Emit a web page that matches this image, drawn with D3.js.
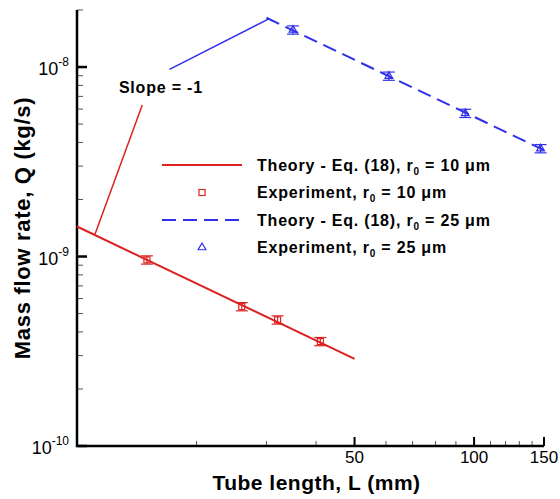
<!DOCTYPE html>
<html>
<head>
<meta charset="utf-8">
<script src="https://cdn.jsdelivr.net/npm/d3@7"></script>
<style>
  body { margin: 0; background: #fff; }
  svg { display: block; font-family: "Liberation Sans", Arial, sans-serif; }
</style>
</head>
<body>
<div id="chart"></div>
<script>
// data ------------------------------------------------------------------
const theory10L = [10, 50];
const theory10Q = [1.44e-9, 2.88e-10];
const theory25L = [30, 150];
const theory25Q = [1.82e-8, 3.64e-9];
const exp10L = [15, 26, 32, 41];
const exp10Q = [9.6e-10, 5.44e-10, 4.63e-10, 3.56e-10];
const exp25L = [35, 61, 95, 147];
const exp25Q = [1.57e-8, 8.96e-9, 5.7e-9, 3.71e-9];
const errFrac = 0.05;
const xMajorTicks = [50, 100, 150];
const xMinorTicks = [20, 30, 40, 60, 70, 80, 90, 110, 120, 130, 140];
const yMajorTicks = [1e-10, 1e-9, 1e-8];
const yMajorLabels = ['-10', '-9', '-8'];
const slopeRedL = [11.1, 14.6];
const slopeRedQ = [1.31e-9, 6.3e-9];
const slopeBlueL = [17.1, 30.5];
const slopeBlueQ = [9.72e-9, 1.8e-8];
const legendLabels = [
  { kind: 'line', color: 'red', text: 'Theory - Eq. (18), r', r: '10' },
  { kind: 'square', color: 'red', text: 'Experiment, r', r: '10' },
  { kind: 'dash', color: 'blue', text: 'Theory - Eq. (18), r', r: '25' },
  { kind: 'tri', color: 'blue', text: 'Experiment, r', r: '25' }
];

// layout ----------------------------------------------------------------
const width = 560, height = 499;
const margin = { top: 10, right: 16, bottom: 53, left: 77 };
const red = '#dc2222';
const blue = '#3030e8';
const colors = { red: red, blue: blue };

const svg = d3.select('#chart').append('svg')
  .attr('width', width)
  .attr('height', height);

const xScale = d3.scaleLog()
  .domain([10, 150])
  .range([margin.left, width - margin.right]);
const yScale = d3.scaleLog()
  .domain([1e-10, 2e-8])
  .range([height - margin.bottom, margin.top]);

const x0 = xScale.range()[0], x1 = xScale.range()[1];
const y0 = yScale.range()[0], y1 = yScale.range()[1];

// axes ------------------------------------------------------------------
const ax = svg.append('g');
// x ticks
ax.selectAll('.xminor').data(xMinorTicks).enter().append('line')
  .attr('x1', d => xScale(d)).attr('x2', d => xScale(d))
  .attr('y1', y0).attr('y2', y0 - 5)
  .attr('stroke', '#555').attr('stroke-width', 1);
ax.selectAll('.xmajor').data(xMajorTicks).enter().append('line')
  .attr('x1', d => xScale(d)).attr('x2', d => xScale(d))
  .attr('y1', y0).attr('y2', y0 - 9)
  .attr('stroke', '#000').attr('stroke-width', 2);
ax.selectAll('.xlab').data(xMajorTicks).enter().append('text')
  .attr('x', d => xScale(d)).attr('y', y0 + 17)
  .attr('text-anchor', 'middle')
  .attr('font-size', '17px')
  .text(d => d);

// y ticks
const yMinorTicks = [];
yMajorTicks.forEach(m => {
  for (let k = 2; k <= 9; k++) {
    const v = m * k;
    if (v <= yScale.domain()[1]) yMinorTicks.push(v);
  }
});
ax.selectAll('.yminor').data(yMinorTicks).enter().append('line')
  .attr('x1', x0).attr('x2', x0 + 6)
  .attr('y1', d => yScale(d)).attr('y2', d => yScale(d))
  .attr('stroke', '#555').attr('stroke-width', 1);
ax.selectAll('.ymajor').data(yMajorTicks).enter().append('line')
  .attr('x1', x0).attr('x2', x0 + 10)
  .attr('y1', d => yScale(d)).attr('y2', d => yScale(d))
  .attr('stroke', '#000').attr('stroke-width', 2.5);
const ylab = ax.selectAll('.ylab').data(yMajorTicks).enter().append('text')
  .attr('x', x0 - 8).attr('y', d => yScale(d) + 8)
  .attr('text-anchor', 'end')
  .attr('font-size', '18px');
ylab.append('tspan').text('10');
ylab.append('tspan')
  .attr('font-size', '12px')
  .attr('dy', -9)
  .text((d, i) => yMajorLabels[i]);

// axis lines
ax.append('path')
  .attr('d', `M${x0},${y1}V${y0}H${x1}`)
  .attr('fill', 'none')
  .attr('stroke', '#000')
  .attr('stroke-width', 2.5);

// axis titles
svg.append('text')
  .attr('x', (x0 + x1) / 2 + 6).attr('y', height - 9)
  .attr('text-anchor', 'middle')
  .attr('font-size', '21px')
  .attr('letter-spacing', '0.5px')
  .attr('font-weight', 'bold')
  .text('Tube length, L (mm)');
svg.append('text')
  .attr('transform', `translate(30,${(y0 + y1) / 2}) rotate(-90)`)
  .attr('text-anchor', 'middle')
  .attr('font-size', '22px')
  .attr('letter-spacing', '0.7px')
  .attr('font-weight', 'bold')
  .text('Mass flow rate, Q (kg/s)');

// lines -----------------------------------------------------------------
const line = d3.line().x(d => xScale(d[0])).y(d => yScale(d[1]));
svg.append('path')
  .datum(d3.zip(theory10L, theory10Q))
  .attr('d', line)
  .attr('fill', 'none').attr('stroke', red).attr('stroke-width', 2);
svg.append('path')
  .datum(d3.zip(theory25L, theory25Q))
  .attr('d', line)
  .attr('fill', 'none').attr('stroke', blue).attr('stroke-width', 2)
  .attr('stroke-dasharray', '14,7');
svg.append('path')
  .datum(d3.zip(slopeRedL, slopeRedQ))
  .attr('d', line)
  .attr('fill', 'none').attr('stroke', red).attr('stroke-width', 1.5);
svg.append('path')
  .datum(d3.zip(slopeBlueL, slopeBlueQ))
  .attr('d', line)
  .attr('fill', 'none').attr('stroke', blue).attr('stroke-width', 1.5);

svg.append('text')
  .attr('x', xScale(12.75)).attr('y', yScale(7.3e-9))
  .attr('font-size', '16px')
  .attr('letter-spacing', '0.8px')
  .attr('font-weight', 'bold')
  .text('Slope = -1');

// experiment points ---------------------------------------------------------
function errorBars(g, L, Q, color) {
  const pts = d3.zip(L, Q);
  const eb = g.selectAll(null).data(pts).enter().append('g')
    .attr('stroke', color).attr('stroke-width', 1.2).attr('fill', 'none');
  eb.append('line')
    .attr('x1', d => xScale(d[0])).attr('x2', d => xScale(d[0]))
    .attr('y1', d => yScale(d[1] * (1 + errFrac))).attr('y2', d => yScale(d[1] * (1 - errFrac)));
  eb.append('line')
    .attr('x1', d => xScale(d[0]) - 6).attr('x2', d => xScale(d[0]) + 6)
    .attr('y1', d => yScale(d[1] * (1 + errFrac))).attr('y2', d => yScale(d[1] * (1 + errFrac)));
  eb.append('line')
    .attr('x1', d => xScale(d[0]) - 6).attr('x2', d => xScale(d[0]) + 6)
    .attr('y1', d => yScale(d[1] * (1 - errFrac))).attr('y2', d => yScale(d[1] * (1 - errFrac)));
  return eb;
}
const e10 = errorBars(svg.append('g'), exp10L, exp10Q, red);
e10.append('rect')
  .attr('x', d => xScale(d[0]) - 3).attr('y', d => yScale(d[1]) - 3)
  .attr('width', 6).attr('height', 6);
const e25 = errorBars(svg.append('g'), exp25L, exp25Q, blue);
const tri = d3.symbol().type(d3.symbolTriangle).size(26);
e25.append('path')
  .attr('transform', d => `translate(${xScale(d[0])},${yScale(d[1])})`)
  .attr('d', tri);

// legend ----------------------------------------------------------------
const lg = svg.append('g').attr('transform', 'translate(162,165)');
const rowH = 27.5;
const rows = lg.selectAll('.row').data(legendLabels).enter().append('g')
  .attr('transform', (d, i) => `translate(0,${i * rowH})`);
rows.filter(d => d.kind === 'line' || d.kind === 'dash').append('line')
  .attr('x1', 0).attr('x2', 80).attr('y1', 0).attr('y2', 0)
  .attr('stroke', d => colors[d.color]).attr('stroke-width', 2)
  .attr('stroke-dasharray', d => d.kind === 'dash' ? '14,7' : null);
rows.filter(d => d.kind === 'square').append('rect')
  .attr('x', 37).attr('y', -3).attr('width', 6).attr('height', 6)
  .attr('fill', 'none').attr('stroke', red).attr('stroke-width', 1.2);
rows.filter(d => d.kind === 'tri').append('path')
  .attr('transform', 'translate(40,0)')
  .attr('d', tri)
  .attr('fill', 'none').attr('stroke', blue).attr('stroke-width', 1.2);
const lt = rows.append('text')
  .attr('x', 95).attr('y', 5.5)
  .attr('font-size', '16px')
  .attr('letter-spacing', '0.8px')
  .attr('font-weight', 'bold');
lt.append('tspan').text(d => d.text);
lt.append('tspan').attr('font-size', '10px').attr('dy', 4).text('0');
lt.append('tspan').attr('dy', -4).text(d => ' = ' + d.r + ' \u03bcm');
</script>
</body>
</html>
